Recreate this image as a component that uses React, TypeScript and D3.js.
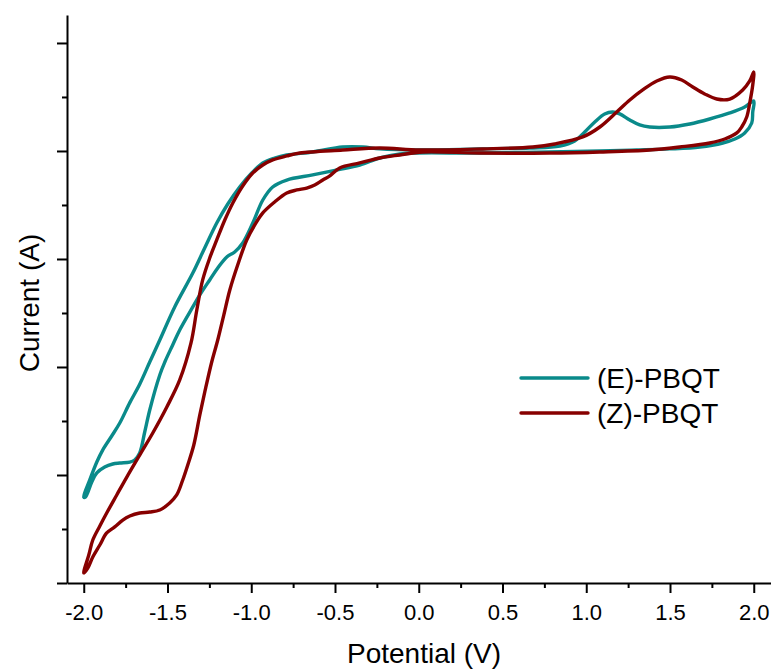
import { useRef, useEffect } from 'react'
import * as d3 from 'd3'

// potential (V), current (arb. units, one major tick = 1)
const ePotential = [
  -2.0, -1.964, -1.922, -1.887, -1.833, -1.785, -1.725, -1.666, -1.606, -1.546, -1.457, -1.349, -1.278, -1.206,
  -1.14, -1.069, -0.997, -0.931, -0.86, -0.788, -0.633, -0.454, -0.334, -0.233, 0.006, 0.364, 0.663, 0.842,
  0.931, 0.991, 1.051, 1.11, 1.158, 1.2, 1.26, 1.319, 1.379, 1.499, 1.618, 1.737, 1.857, 1.946, 2.0,
  1.994, 1.988, 1.946, 1.887, 1.815, 1.678, 1.499, 1.301, 1.081, 0.782, 0.364, -0.012, -0.113, -0.233, -0.352,
  -0.49, -0.633, -0.788, -0.872, -0.931, -0.991, -1.051, -1.099, -1.146, -1.2, -1.248, -1.307, -1.349, -1.427,
  -1.469, -1.516, -1.546, -1.606, -1.636, -1.666, -1.696, -1.725, -1.785, -1.827, -1.875, -1.922, -1.952, -1.99,
]
const eCurrent = [
  -3.204, -3.046, -2.88, -2.769, -2.639, -2.519, -2.33, -2.16, -1.954, -1.75, -1.444, -1.13, -0.898, -0.667,
  -0.491, -0.333, -0.204, -0.111, -0.065, -0.037, -0.009, 0.037, 0.037, 0.019, 0.009, 0.019, 0.028, 0.046,
  0.093, 0.176, 0.269, 0.343, 0.361, 0.343, 0.287, 0.241, 0.222, 0.222, 0.25, 0.296, 0.352, 0.407, 0.463,
  0.361, 0.259, 0.167, 0.111, 0.074, 0.037, 0.019, 0.009, 0, -0.009, -0.019, -0.019, -0.028, -0.065, -0.13,
  -0.176, -0.222, -0.269, -0.333, -0.454, -0.667, -0.852, -0.935, -0.981, -1.083, -1.194, -1.333, -1.444, -1.657,
  -1.796, -1.954, -2.074, -2.398, -2.602, -2.796, -2.861, -2.88, -2.889, -2.898, -2.926, -2.981, -3.065, -3.204,
]

const zPotential = [
  -2.0, -1.97, -1.946, -1.904, -1.863, -1.803, -1.743, -1.666, -1.588, -1.504, -1.427, -1.36, -1.325, -1.29,
  -1.248, -1.206, -1.158, -1.11, -1.051, -0.991, -0.931, -0.872, -0.788, -0.71, -0.454, -0.233, 0.006, 0.382,
  0.681, 0.812, 0.979, 1.081, 1.182, 1.26, 1.337, 1.421, 1.499, 1.57, 1.636, 1.707, 1.779, 1.857, 1.934,
  1.976, 2.0,
  1.994, 1.976, 1.958, 1.928, 1.899, 1.827, 1.737, 1.558, 1.379, 1.081, 0.782, 0.364, 0.024, -0.113, -0.233,
  -0.352, -0.472, -0.531, -0.573, -0.621, -0.669, -0.728, -0.788, -0.86, -0.931, -0.979, -1.027, -1.081, -1.128,
  -1.164, -1.2, -1.236, -1.272, -1.307, -1.343, -1.379, -1.409, -1.445, -1.487, -1.546, -1.606, -1.666, -1.725,
  -1.767, -1.815, -1.863, -1.904, -1.946, -1.976,
]
const zCurrent = [
  -3.907, -3.741, -3.602, -3.472, -3.352, -3.185, -3.019, -2.815, -2.611, -2.37, -2.12, -1.78, -1.472, -1.194,
  -0.991, -0.824, -0.639, -0.481, -0.324, -0.204, -0.13, -0.083, -0.046, -0.019, 0.009, 0.028, 0.009, 0.019,
  0.037, 0.065, 0.13, 0.222, 0.361, 0.472, 0.565, 0.648, 0.685, 0.657, 0.593, 0.528, 0.481, 0.481, 0.565,
  0.648, 0.731,
  0.611, 0.444, 0.315, 0.222, 0.167, 0.111, 0.074, 0.037, 0.009, -0.009, -0.019, -0.019, -0.009, -0.037, -0.065,
  -0.111, -0.157, -0.231, -0.269, -0.315, -0.343, -0.361, -0.389, -0.472, -0.574, -0.685, -0.824, -1.056, -1.287,
  -1.519, -1.75, -1.954, -2.194, -2.444, -2.722, -2.907, -3.046, -3.185, -3.259, -3.324, -3.343, -3.352, -3.38,
  -3.417, -3.481, -3.537, -3.648, -3.759, -3.861,
]

const seriesNames = ['(E)-PBQT', '(Z)-PBQT']
const seriesColors = ['#0a8a8a', '#870000']
const xMajorTicks = [-2.0, -1.5, -1.0, -0.5, 0.0, 0.5, 1.0, 1.5, 2.0]
const xMinorTicks = [-1.75, -1.25, -0.75, -0.25, 0.25, 0.75, 1.25, 1.75]
const yMajorTicks = [-4, -3, -2, -1, 0, 1]
const yMinorTicks = [-3.5, -2.5, -1.5, -0.5, 0.5]

const W = 772
const H = 671
const FONT = 'Liberation Sans, Arial, sans-serif'

export default function App() {
  const svgRef = useRef<SVGSVGElement>(null)

  useEffect(() => {
    if (!svgRef.current) return
    const svg = d3.select(svgRef.current)
    svg.selectAll('*').remove()

    const x = d3.scaleLinear().domain([-2.1, 2.1]).range([67, 770.5])
    const y = d3.scaleLinear().domain([-4, 1.259]).range([583, 15])

    const series = [
      { name: seriesNames[0], color: seriesColors[0], v: ePotential, i: eCurrent },
      { name: seriesNames[1], color: seriesColors[1], v: zPotential, i: zCurrent },
    ]

    const line = d3
      .line<[number, number]>()
      .x((d) => x(d[0]))
      .y((d) => y(d[1]))
      .curve(d3.curveCatmullRomClosed.alpha(0.5))

    // curves
    series.forEach((s) => {
      const pts = s.v.map((v, k) => [v, s.i[k]] as [number, number])
      svg
        .append('path')
        .attr('d', line(pts))
        .attr('fill', 'none')
        .attr('stroke', s.color)
        .attr('stroke-width', 3.4)
        .attr('stroke-linejoin', 'round')
    })

    // X axis
    const gx = svg.append('g').attr('transform', `translate(0,${y(-4)})`)
    gx.call(
      d3
        .axisBottom(x)
        .tickValues(xMajorTicks)
        .tickSize(10)
        .tickSizeOuter(0)
        .tickPadding(11)
        .tickFormat((d) => (d as number).toFixed(1))
    )
    gx.append('g').call(d3.axisBottom(x).tickValues(xMinorTicks).tickSize(5).tickFormat(() => ''))
    gx.selectAll('g > g > .domain').remove()
    gx.selectAll('.domain').attr('stroke', '#000').attr('stroke-width', 2)
    gx.selectAll('.tick line').attr('stroke', '#000').attr('stroke-width', 2)
    gx.selectAll('.tick text').attr('fill', '#000').attr('font-size', 22).attr('font-family', FONT)

    // Y axis (no labels)
    const gy = svg.append('g').attr('transform', `translate(${x(-2.1)},0)`)
    gy.call(d3.axisLeft(y).tickValues(yMajorTicks).tickSize(10).tickSizeOuter(0).tickFormat(() => ''))
    gy.append('g').call(d3.axisLeft(y).tickValues(yMinorTicks).tickSize(5).tickFormat(() => ''))
    gy.selectAll('g > g > .domain').remove()
    gy.selectAll('.domain').attr('stroke', '#000').attr('stroke-width', 2)
    gy.selectAll('.tick line').attr('stroke', '#000').attr('stroke-width', 2)

    // axis titles
    svg
      .append('text')
      .attr('x', 424)
      .attr('y', 663)
      .attr('text-anchor', 'middle')
      .attr('font-family', FONT)
      .attr('font-size', 28)
      .attr('fill', '#000')
      .text('Potential (V)')

    svg
      .append('text')
      .attr('transform', `translate(39,303) rotate(-90)`)
      .attr('text-anchor', 'middle')
      .attr('font-family', FONT)
      .attr('font-size', 28)
      .attr('fill', '#000')
      .text('Current (A)')

    // legend
    const legend = svg.append('g')
    series.forEach((s, k) => {
      const cy = 378 + k * 35
      legend
        .append('line')
        .attr('x1', 521)
        .attr('x2', 588)
        .attr('y1', cy)
        .attr('y2', cy)
        .attr('stroke', s.color)
        .attr('stroke-width', 3.4)
        .attr('stroke-linecap', 'round')
      legend
        .append('text')
        .attr('x', 597)
        .attr('y', cy + 10)
        .attr('font-family', FONT)
        .attr('font-size', 28)
        .attr('fill', '#000')
        .text(s.name)
    })
  }, [])

  return (
    <svg
      ref={svgRef}
      width={W}
      height={H}
      style={{ position: 'absolute', left: 0, top: 0, background: '#fff' }}
    />
  )
}
